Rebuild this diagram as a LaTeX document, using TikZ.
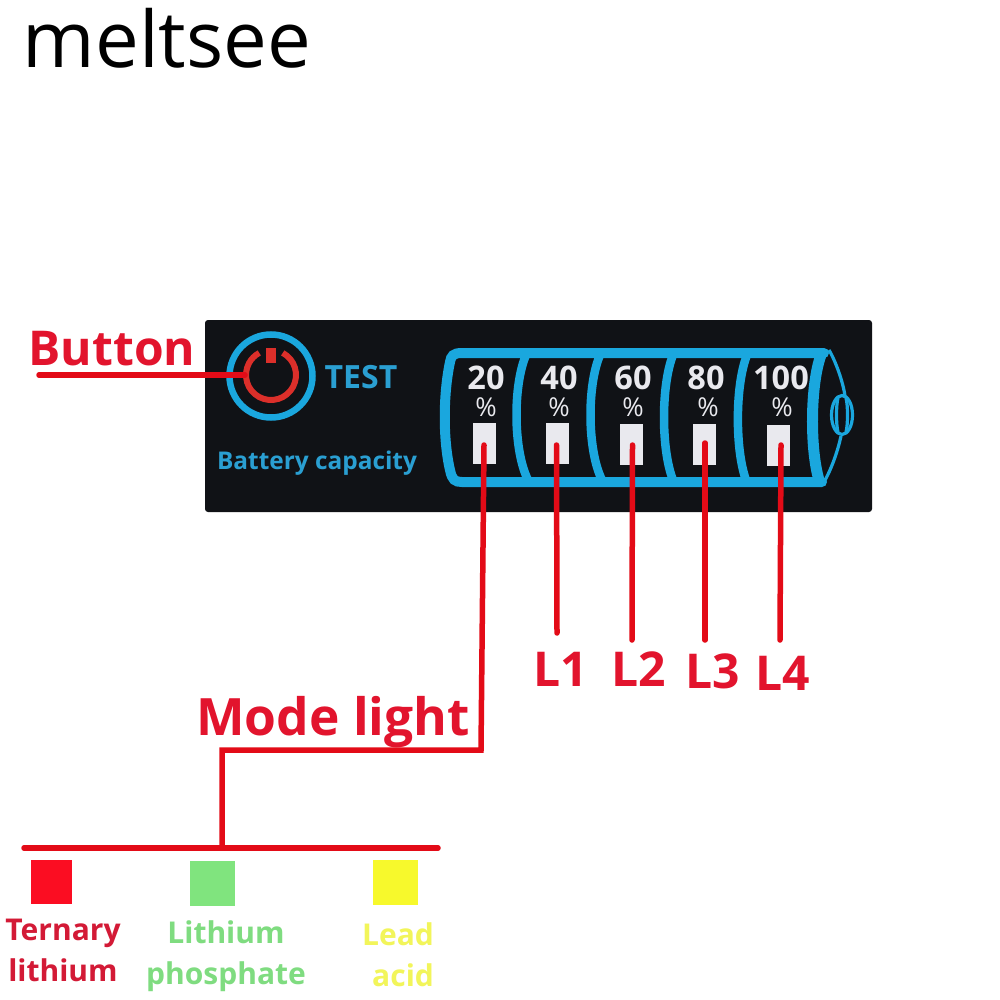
\documentclass[tikz,border=0pt]{standalone}
\usepackage{fontspec}
\setmainfont{Open Sans}
\definecolor{panel}{HTML}{101216}
\definecolor{bblue}{HTML}{1AA7DE}
\definecolor{tblue}{HTML}{2A9FD2}
\definecolor{lred}{HTML}{E30B17}
\definecolor{ired}{HTML}{DC2F2A}
\definecolor{tred}{HTML}{E2142D}
\definecolor{dred}{HTML}{D31A36}
\definecolor{sred}{HTML}{FB0D22}
\definecolor{sgreen}{HTML}{80E47E}
\definecolor{tgreen}{HTML}{7FDC80}
\definecolor{syellow}{HTML}{F7F92C}
\definecolor{tyellow}{HTML}{F2F55A}
\definecolor{ledw}{HTML}{E9E9EE}
\tikzset{
  x=1pt,y=-1pt,
  txt/.style={inner sep=0pt,outer sep=0pt,anchor=center},
  redlabel/.style={txt,font=\bfseries\fontsize{48}{48}\selectfont,text=tred},
  legend/.style={txt,font=\bfseries\fontsize{30}{41}\selectfont,align=center},
  pct/.style={txt,text=ledw,font=\fontsize{32.5}{32.5}\selectfont\bfseries},
  pcs/.style={txt,text=ledw,font=\fontsize{26}{26}\selectfont},
  led/.style={fill=ledw,draw=none,minimum width=23pt,minimum height=41pt,inner sep=0pt},
  swatch/.style={draw=none,inner sep=0pt},
  wire/.style={draw=lred,line width=5.5pt,line cap=round,line join=miter},
  shell/.style={draw=bblue,line width=10pt,line cap=round},
  divider/.style={draw=bblue,line width=8.5pt},
  thinb/.style={draw=bblue,line width=3.2pt},
}
\begin{document}
\begin{tikzpicture}
\useasboundingbox (0,0) rectangle (1000,1000);
\fill[white] (0,0) rectangle (1000,1000);
\node[txt,font=\fontsize{78}{78}\selectfont,text=black] (brand) at (167,38) {meltsee};
\fill[panel,rounded corners=3pt] (205,320) rectangle (872,512);
% power icon
\draw[bblue,line width=6.5pt] (271,376) circle (41.5);
\draw[ired,line width=6pt] (271,375) ++(-62:25) arc[start angle=-62,end angle=242,radius=25];
\node[fill=ired,draw=none,minimum width=10pt,minimum height=15pt,inner sep=0pt] (pw) at (271,355) {};
\node[txt,font=\bfseries\fontsize{32}{32}\selectfont,text=tblue] (test) at (361,377) {TEST};
\node[txt,font=\bfseries\fontsize{24.4}{24.4}\selectfont,text=tblue] (cap) at (317,463) {Battery capacity};
% battery
\draw[shell] (824,353) -- (462,353) .. controls (453,353) and (451,356) .. (450,362)
  .. controls (443,395) and (443,440) .. (450,470) .. controls (452,480) and (455,482) .. (462,482) -- (822,482);
\draw[divider] (526,355) .. controls (513,385) and (513,450) .. (528,480);
\draw[divider] (600,355) .. controls (587,385) and (587,450) .. (602,480);
\draw[divider] (673,355) .. controls (661,385) and (661,450) .. (673,480);
\draw[divider] (747,355) .. controls (735,385) and (735,450) .. (746,480);
\draw[divider,line width=11pt] (821,355) .. controls (810,385) and (810,450) .. (819,480);
\draw[thinb] (829,350) .. controls (836,362) and (843,382) .. (845,396);
\draw[thinb] (841,436) .. controls (838,450) and (832,468) .. (824,482);
\draw[thinb] (842,415) ellipse (10.5 and 19.5);
\draw[thinb] (838,398) .. controls (836,405) and (836,425) .. (838,432);
\draw[thinb] (846,398) .. controls (848,405) and (848,425) .. (846,432);
% captions and LEDs
\node[pct] at (486,378) {20};   \node[pcs] at (486,407) {\%};
\node[pct] at (559,378) {40};   \node[pcs] at (559,407) {\%};
\node[pct] at (633,378) {60};   \node[pcs] at (633,407) {\%};
\node[pct] at (706,378) {80};   \node[pcs] at (708,407) {\%};
\node[pct] at (781,378) {100};  \node[pcs] at (782,407) {\%};
\node[led] (led0) at (484.5,443.5) {};
\node[led] (led1) at (557.5,443.5) {};
\node[led] (led2) at (631,444) {};
\node[led] (led3) at (704.5,444) {};
\node[led] (led4) at (778,445) {};
% labels
\node[redlabel] (button) at (112,349) {Button};
\node[redlabel,font=\bfseries\fontsize{51.5}{51.5}\selectfont] (mode) at (333,722) {Mode light};
\node[redlabel] (l1) at (561,669) {L1};
\node[redlabel] (l2) at (639,669) {L2};
\node[redlabel] (l3) at (713,671) {L3};
\node[redlabel] (l4) at (783,673) {L4};
% wires
\coordinate (bstart) at (39,375);
\coordinate (bend) at (245,375);
\coordinate (w0) at (484,445);
\coordinate (w0b) at (481,750);
\coordinate (w0c) at (222,750);
\coordinate (hl) at (24,848);
\coordinate (hr) at (438,848);
\coordinate (hm) at (222,848);
\draw[wire] (bstart) -- (bend);
\draw[wire] (w0) -- (w0b) -- (w0c) -- (hm);
\draw[wire] (hl) -- (hr);
\coordinate (e1) at (557,633);
\coordinate (e2) at (632,640);
\coordinate (e3) at (705,640);
\coordinate (e4) at (780,640);
\draw[wire] (556.5,445) -- (e1);
\draw[wire] (632.5,445) -- (e2);
\draw[wire] (705,443) -- (e3);
\draw[wire] (781,445) -- (e4);
% legend
\node[swatch,fill=sred,minimum width=41pt,minimum height=44pt] (sr) at (51,882) {};
\node[swatch,fill=sgreen,minimum width=45pt,minimum height=45pt] (sg) at (212,883) {};
\node[swatch,fill=syellow,minimum width=45pt,minimum height=45pt] (sy) at (395,882) {};
\node[legend,text=dred] (tr) at (63,950) {Ternary\\lithium};
\node[legend,text=tgreen] (tg) at (226,956) {Lithium\\phosphate};
\node[legend,text=tyellow,align=right] (ty) at (398,955) {Lead\\acid};
\end{tikzpicture}
\end{document}
